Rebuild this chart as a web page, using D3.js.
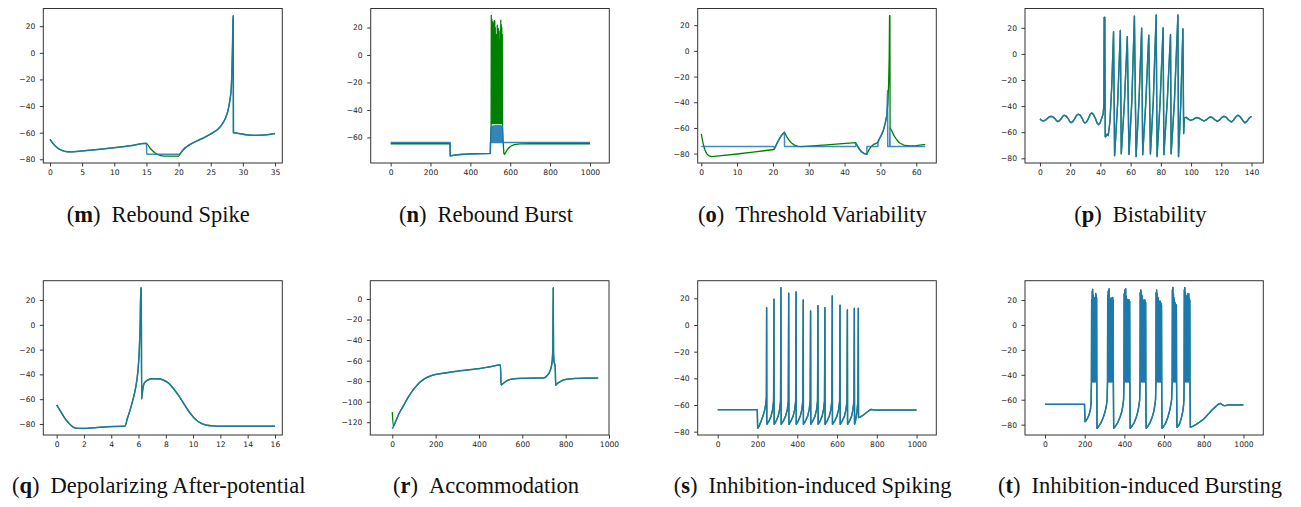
<!DOCTYPE html>
<html><head><meta charset="utf-8">
<script src="https://cdn.jsdelivr.net/npm/d3@7"></script>
<style>body{margin:0;background:#fff}svg{display:block}</style>
</head><body>
<svg id="c" width="1301" height="507"></svg>
<script>
// ---------- captions ----------
const capLetters = ['m','n','o','p','q','r','s','t'];
const capTitles = ['Rebound Spike','Rebound Burst','Threshold Variability','Bistability',
  'Depolarizing After-potential','Accommodation','Inhibition-induced Spiking','Inhibition-induced Bursting'];

// ---------- tick values ----------
const mXTicks=[0,5,10,15,20,25,30,35], mYTicks=[-80,-60,-40,-20,0,20];
const nXTicks=[0,200,400,600,800,1000], nYTicks=[-60,-40,-20,0,20];
const oXTicks=[0,10,20,30,40,50,60], oYTicks=[-80,-60,-40,-20,0,20];
const pXTicks=[0,20,40,60,80,100,120,140], pYTicks=[-80,-60,-40,-20,0,20];
const qXTicks=[0,2,4,6,8,10,12,14,16], qYTicks=[-80,-60,-40,-20,0,20];
const rXTicks=[0,200,400,600,800,1000], rYTicks=[-120,-100,-80,-60,-40,-20,0];
const sXTicks=[0,200,400,600,800,1000], sYTicks=[-80,-60,-40,-20,0,20];
const tXTicks=[0,200,400,600,800,1000], tYTicks=[-80,-60,-40,-20,0,20];

// ---------- (m) Rebound Spike ----------
const mHead=[[0,-65],[0.5,-68.3],[1,-70.8],[1.5,-72.5],[2,-73.6],[2.5,-74.2],[3,-74.4],[4,-74.2],[5,-73.7],[7.5,-72.6],[10,-71.3],[12.5,-69.8],[15,-68]];
const mGreenDip=[[15.5,-71.2],[16,-73.8],[16.5,-75.7],[17,-76.8],[17.5,-77.4],[18,-77.6],[20,-77.6]];
const mBlueDip=[[15.05,-76.2],[20,-76.2]];
const mTail=[[20.3,-75.5],[20.7,-73],[21.2,-70.8],[21.8,-68.8],[22.5,-67],[23.5,-64.8],[24.5,-62.3],[25.5,-59.5],[26.2,-57],[26.8,-53.5],[27.3,-49],[27.7,-43],[28,-35],[28.2,-26],[28.32,-10],[28.4,8],[28.46,27.8],[28.5,27.8],[28.53,-60],[29,-60.3],[30,-61.2],[31,-61.8],[32,-62],[33,-61.9],[34,-61.4],[35,-60.7]];

// ---------- (n) Rebound Burst ----------
const nGreen=[[0,-64.6],[298,-64.6],[299,-73.4],[305,-73.3],[320,-72.9],[350,-72.4],[400,-72],[450,-71.8],[500,-71.6],[501,-64.6],[504,-52],
[505,28.7],[506.5,-50],[507.5,26],[509,-50],[510,18],[511.5,-50],[512.5,24],[514,-50],[515,22.7],[516.5,-50],[517.5,10],[519,-50],[520,25],[521.5,-50],[522.5,24.8],[524,-50],[525,20],[526.5,-50],[527.5,5],[529,-50],[530,14.7],[531.5,-50],[532.5,8],[534,-50],[535,21.7],[536.5,-50],[537.5,12],[539,-50],[540,19.3],[541.5,-50],[542.5,17],[544,-50],[545,5],[546.5,-50],[547.5,11],[549,-50],[550,18],[551.5,-50],[552.5,25.3],[554,-50],[555,22],[556.5,-50],[557.5,20],[559,-50],[560,15],[561.5,-52],
[564,-62],[568,-71.5],[571,-72.3],[576,-71.3],[585,-69],[600,-66.6],[620,-65.3],[650,-64.7],[700,-64.6],[1000,-64.6]];
const nBlue=[[0,-63.6],[298,-63.6],[299,-73.4],[305,-73.3],[320,-72.9],[350,-72.4],[400,-72],[450,-71.8],[500,-71.6],[501,-63.6],[503,-63.6],
[504,-52.5],[505.7,-63.6],[507.5,-52],[509.2,-63.6],[511,-51.8],[512.7,-63.6],[514.5,-51.7],[516.2,-63.6],[518,-51.6],[519.7,-63.6],[521.5,-51.6],[523.2,-63.6],[525,-51.5],[526.7,-63.6],[528.5,-51.5],[530.2,-63.6],[532,-51.5],[533.7,-63.6],[535.5,-51.5],[537.2,-63.6],[539,-51.5],[540.7,-63.6],[542.5,-51.5],[544.2,-63.6],[546,-51.5],[547.7,-63.6],[549.5,-51.5],[551.2,-63.6],[553,-51.6],[554.7,-63.6],[556.5,-51.7],[558.2,-63.6],[560,-51.8],[561.7,-63.6],[1000,-63.6]];

// ---------- (o) Threshold Variability ----------
const oGreen=[[0,-64.6],[0.5,-72],[1,-77],[1.5,-80],[2,-81.5],[2.9,-82.3],[5,-81.7],[10,-80.3],[15,-78.6],[20.3,-76.8],[20.8,-74],[21.3,-71],[22,-67.5],[22.6,-65],[23.2,-63.3],[23.8,-66.5],[24.5,-69.5],[25.2,-71.8],[26,-73.4],[27,-74.3],[28,-74.6],[35,-73.2],[43,-71.4],[43.5,-73.5],[44,-76],[44.7,-78.5],[45.5,-80],[46.2,-80.5],[46.7,-77.5],[47.3,-75],[48,-73],[49.2,-71.5],[49.6,-69],[50.2,-66],[50.8,-62],[51.3,-57],[51.8,-50],[52.1,-40],[52.3,-25],[52.45,-5],[52.55,27.5],[52.65,27.5],[52.7,-60],[53.2,-62.5],[53.8,-66],[54.5,-69],[55.3,-71.5],[56.5,-73.3],[58,-73.9],[60,-73.7],[62.5,-72.8]];
const oBlue=[[0,-74.5],[20.3,-74.5],[20.4,-76.3],[21.3,-71],[22,-67.5],[22.6,-65],[23.2,-63.3],[23.25,-74.5],[43.1,-74.5],[43.15,-71.6],[43.5,-73.5],[44,-76],[44.7,-78.5],[45.5,-80],[46.2,-80.5],[46.25,-74.5],[49.3,-74.5],[49.35,-71.5],[49.6,-69],[50.2,-66],[50.8,-62],[51.3,-57],[51.8,-50],[52,-31],[52.05,-74.5],[52.6,-74.5],[52.65,-60],[52.7,-74.5],[62.5,-74.5]];

// ---------- (p) Bistability ----------
const pTrace=[[0,-49.8],[1,-50.9],[2.2,-51.4],[3.4,-50.9],[4.8,-49.6],[6,-48.3],[7.3,-47.8],[8.6,-48.3],[10,-49.7],[11,-51.2],[11.8,-51.9],[12.8,-51.3],[14.2,-49.5],[15.2,-47.6],[16.2,-47],[17.3,-47.6],[18.8,-49.8],[19.8,-52],[20.6,-52.7],[21.6,-52],[23,-49.6],[24.3,-47],[25.5,-46.2],[26.7,-47],[28,-49.5],[29,-52.2],[29.8,-52.9],[30.8,-52.2],[32.2,-49.2],[33.3,-46.2],[34.3,-45.2],[35.3,-46.2],[36.7,-49.5],[37.8,-53],[38.8,-54.2],[39.8,-53],[40.8,-49.5],[41.8,-46],[42.3,-40],[42.5,28],[42.9,28],[43.2,-63.5],[43.8,-63],[44.5,-61.5],[45.2,-62.5],[46.3,-52],[47.5,-25],[48.7,17],[49.4,-78],[51.4,-38],[53.2,18],[53.8,-76.6],[55.9,-37],[57.8,13.3],[58.9,-77],[60.8,-36],[62.5,29],[63.6,-78.7],[65.5,-37],[67.3,19.7],[68,-77.2],[70,-38],[72,14.3],[73.1,-76.6],[75,-36],[76.9,29.8],[77.5,-78.7],[79.5,-37],[81.5,20],[82,-77.2],[84.2,-37],[86.4,14.8],[86.8,-76.6],[89,-36],[91.3,29.8],[91.7,-78.7],[93.2,-38],[94.6,19.2],[95.1,-61],[95.6,-49],[96.8,-48.6],[98.2,-50],[99.7,-51],[101.5,-50.2],[103,-49],[104,-48.8],[105.2,-49.2],[106.8,-50.4],[108.5,-51.4],[110,-50.6],[111.7,-48.9],[113,-48.3],[114.2,-48.9],[115.9,-50.6],[117.4,-51.7],[118.8,-50.6],[120.5,-48.5],[121.8,-47.8],[123.2,-48.5],[125,-50.8],[126.7,-52.2],[128,-50.8],[129.8,-48],[131,-47],[132.4,-48],[134.2,-51],[135.6,-52.9],[137,-51.6],[138.6,-49],[140,-47.8]];

// ---------- (q) Depolarizing After-potential ----------
const qTrace=[[0,-64.7],[0.3,-70],[0.6,-75.5],[0.9,-79.5],[1.2,-82.5],[1.5,-83.5],[2,-83.6],[3,-82.8],[4,-82.1],[5,-81.8],[5.2,-75],[5.4,-68],[5.6,-60],[5.8,-50],[5.95,-38],[6.05,-22],[6.12,0],[6.17,30],[6.2,29.5],[6.23,-60],[6.3,-53],[6.4,-47.5],[6.6,-45],[7,-43.5],[7.4,-43.5],[7.8,-44.5],[8.2,-47],[8.6,-52],[9,-58],[9.4,-65],[9.8,-71.5],[10.2,-76.5],[10.6,-79.5],[11,-81],[11.5,-81.6],[12,-81.8],[14,-81.8],[16,-81.8]];

// ---------- (r) Accommodation ----------
const rGreenStart=[[0,-110]];
const rBlue=[[0,-126.5],[5,-124],[15,-119.5],[30,-112],[50,-104.5],[75,-95],[100,-87.5],[125,-81.5],[150,-77.5],[175,-75],[200,-73.5],[250,-71.8],[300,-70.3],[350,-69],[400,-67.8],[450,-66],[499,-64.2],[502,-83.8],[510,-82.5],[530,-79.5],[560,-77.7],[600,-77.2],[650,-77],[700,-76.8],[715,-74.5],[725,-71.5],[733,-66.5],[738,-60],[741,-45],[742.5,11],[744,-52],[746,-60],[750,-64],[752,-67],[754,-84],[760,-82.5],[780,-79.8],[800,-78.3],[850,-77.3],[900,-77],[950,-77]];

// ---------- (s) Inhibition-induced Spiking ----------
const sTrace=[[0,-63.5],[199,-63.5],[201,-77.5],[208,-76],[216,-73],[226,-69],[236,-64],[242,-59],[245,-54],
[246,13],[247,-74.5],[258,-72],[268,-68.5],[276,-63.5],[281,-57],
[283,19.3],[284,-74.5],[294,-72],[304,-68.5],[311,-63.5],[316,-57],
[318,28],[319,-74.5],[330,-72],[341,-68.5],[350,-63.5],[355,-57],
[357,23.8],[358,-74.5],[368,-72],[379,-68.5],[387,-63.5],[392,-57],
[394,24.8],[395,-74.5],[405,-72],[415,-68.5],[423,-63.5],[428,-57],
[430,18.8],[431,-74.5],[441,-72],[452,-68.5],[460,-63.5],[465,-57],
[467,10.5],[468,-74.5],[478,-72],[489,-68.5],[497,-63.5],[502,-57],
[504,14.5],[505,-74.5],[515,-72],[525,-68.5],[532,-63.5],[537,-57],
[539,13],[540,-74.5],[550,-72],[561,-68.5],[569,-63.5],[574,-57],
[576,21.8],[577,-74.5],[588,-72],[599,-68.5],[608,-63.5],[613,-57],
[615,14.8],[616,-74.5],[626,-72],[637,-68.5],[645,-63.5],[650,-57],
[652,11.3],[653,-74.5],[663,-72],[673,-68.5],[680,-63.5],[685,-57],
[687,12.5],[688,-74.5],[694,-71],[700,-65],[705,-57],
[707,12.5],[708,-69.5],[716,-69],[730,-67.8],[745,-66],[760,-64.3],[772,-63.3],[785,-63.7],[800,-63.8],[1000,-63.8]];

// ---------- (t) Inhibition-induced Bursting ----------
const tTrace=[[0,-63.7],[199,-63.7],[201.7,-77.6],[206,-77],[212,-75.5],[218,-73.6],[224,-71],[229,-67.5],[232,-63],
[234,-45.5],[235,20.5],[236.5,-45.5],[238,27],[239,-45.5],[240,28.6],[241.5,-45.5],[243,24],[244,-45.5],[245,20],[246.5,-45.5],[248,18.7],[249,-45.5],[250.5,22],[251.5,-45.5],[253,19],[254,-45.5],[255.5,25.3],[256.5,-45.5],[258,24],[259,-45.5],[260,22],[261,-45.5],
[262,-82.9],[270,-81.5],[282,-78.5],[294,-74],[303,-69.5],[309,-65],[313,-60],
[315,-45.5],[316,24],[317,-45.5],[318.5,27],[319.5,-45.5],[321,28],[322,-45.5],[323.5,29],[324.5,-45.5],[326,22],[327,-45.5],[328.5,20],[329.5,-45.5],[331,18],[332,-45.5],[333.5,21],[334.5,-45.5],[336,19],[337,-45.5],[338.5,22],[339.5,-45.5],[341,22],[342,-45.5],[343.5,20],[344.5,-45.5],
[346,-82.9],[354,-81.5],[366,-78.5],[378,-74],[387,-69.5],[392,-65],[396,-60],
[398,-45.5],[399,25],[400,-45.5],[401.5,28],[402.5,-45.5],[404,27],[405,-45.5],[406.5,29],[407.5,-45.5],[409,23],[410,-45.5],[411.5,21],[412.5,-45.5],[414,20],[415,-45.5],[416.5,19],[417.5,-45.5],[419,20],[420,-45.5],[421.5,19],[422.5,-45.5],[424,20],[425,-45.5],[426.5,19],[427.5,-45.5],
[429,-82.9],[437,-81.5],[449,-78.5],[460,-74],[468,-69.5],[473,-65],[477,-60],
[479,-45.5],[480,26],[481,-45.5],[482.5,28],[483.5,-45.5],[485,27],[486,-45.5],[487.5,24],[488.5,-45.5],[490,23],[491,-45.5],[492.5,20],[493.5,-45.5],[495,19],[496,-45.5],[497.5,18],[498.5,-45.5],[500,20],[501,-45.5],[502.5,20],[503.5,-45.5],[505,19],[506,-45.5],[507,18],[508,-45.5],
[509.5,-82.9],[517,-81.5],[529,-78.5],[540,-74],[548,-69.5],[553,-65],[557,-60],
[559,-45.5],[560,26],[561,-45.5],[562.5,28],[563.5,-45.5],[565,25],[566,-45.5],[567.5,22],[568.5,-45.5],[570,22],[571,-45.5],[572.5,19],[573.5,-45.5],[575,18],[576,-45.5],[577.5,19],[578.5,-45.5],[580,19],[581,-45.5],[582.5,18],[583.5,-45.5],[585,17],[586,-45.5],[587,16],[588,-45.5],
[589.5,-82.9],[597,-81.5],[609,-78.5],[619,-74],[627,-69.5],[633,-65],[638,-60],
[641,-45.5],[642,28],[643,-45.5],[644.5,30],[645.5,-45.5],[647,25],[648,-45.5],[649.5,22],[650.5,-45.5],[652,20],[653,-45.5],[654.5,18],[655.5,-45.5],[657,17],[658,-45.5],[659.5,16],[660.5,-45.5],[662,16],[663,-45.5],
[665,-82],[672,-81],[680,-78.5],[688,-74],[694,-69.5],[698,-65],[700,-60],
[701,-45.5],[702,28],[703,-45.5],[704.5,30],[705.5,-45.5],[707,26],[708,-45.5],[709.5,24],[710.5,-45.5],[712,22],[713,-45.5],[714.5,21],[715.5,-45.5],[717,23],[718,-45.5],[719.5,25],[720.5,-45.5],[722,24],[723,-45.5],[724.5,25],[725.5,-45.5],[727,21],[728,-45.5],[729.5,20],[730.5,-45.5],
[732.5,-82],[745,-81.3],[760,-80],[780,-77.8],[800,-75.5],[820,-72],[840,-68.5],[860,-65.5],[875,-63.5],[885,-63],[893,-64],[902,-64.8],[912,-64.6],[925,-64.2],[1000,-64.2]];

// ---------- series per panel (green = first, blue = second) ----------
const seriesByPanel = {
  m:[mHead.concat(mGreenDip,mTail), mHead.concat(mBlueDip,mTail)],
  n:[nGreen,nBlue],
  o:[oGreen,oBlue],
  p:[pTrace,pTrace],
  q:[qTrace,qTrace],
  r:[rGreenStart.concat(rBlue.slice(1)), rBlue],
  s:[sTrace,sTrace],
  t:[tTrace,tTrace]
};
const ticksByPanel = {m:[mXTicks,mYTicks],n:[nXTicks,nYTicks],o:[oXTicks,oYTicks],p:[pXTicks,pYTicks],
  q:[qXTicks,qYTicks],r:[rXTicks,rYTicks],s:[sXTicks,sYTicks],t:[tXTicks,tYTicks]};

// ---------- layout ----------
const layout = [
 {key:'m', box:[43.3,8.5,282.3,163], xd:[-1.04,36.13], yd:[-82.8,33.3], smooth:true, bo:0.86, cx:158.3, cy:221.5},
 {key:'n', box:[370.7,8.5,609.3,163], xd:[-100,1097], yd:[-78.6,33.8], smooth:false, bo:0.9, cx:486, cy:221.5},
 {key:'o', box:[697.7,8.5,936.3,163], xd:[-1,65.6], yd:[-87.3,33], smooth:false, bo:0.86, cx:812.3, cy:221.5},
 {key:'p', box:[1025,8.5,1263.3,163], xd:[-9.9,147.8], yd:[-83.6,34.8], smooth:false, bo:0.86, cx:1140.3, cy:221.5},
 {key:'q', box:[43.3,280.7,282.3,435], xd:[-0.98,16.54], yd:[-88.9,35.6], smooth:true, bo:0.86, cx:158.7, cy:492.5},
 {key:'r', box:[370.3,280.7,609,435], xd:[-101.5,1000], yd:[-132.4,17.8], smooth:true, bo:0.86, cx:486, cy:492.5},
 {key:'s', box:[697.7,280.7,936.3,435], xd:[-100.5,1099], yd:[-82.5,33.2], smooth:false, bo:0.9, cx:812.7, cy:492.5},
 {key:'t', box:[1025,280.7,1263.3,435], xd:[-100.8,1100], yd:[-88.3,35.5], smooth:false, bo:0.95, cx:1140, cy:492.5}
];

const svg = d3.select('#c');
const fmt = v => v < 0 ? '\u2212' + Math.abs(v) : String(v);
const colors = ['#008000', '#1f77b4'];
const widths = [1.3, 1.5];

layout.forEach((L, i) => {
  const [x0,y0,x1,y1] = L.box;
  const x = d3.scaleLinear().domain(L.xd).range([x0,x1]);
  const y = d3.scaleLinear().domain(L.yd).range([y1,y0]);
  const clipId = 'clip-' + L.key;
  svg.append('clipPath').attr('id', clipId).append('rect')
    .attr('x', x0).attr('y', y0).attr('width', x1-x0).attr('height', y1-y0);
  const line = d3.line().x(d => x(d[0])).y(d => y(d[1]))
    .curve(L.smooth ? d3.curveMonotoneX : d3.curveLinear);
  const g = svg.append('g').attr('clip-path', `url(#${clipId})`);
  seriesByPanel[L.key].forEach((s, k) => {
    g.append('path').attr('d', line(s)).attr('fill','none')
      .attr('stroke', colors[k]).attr('stroke-width', widths[k])
      .attr('stroke-opacity', k === 1 ? L.bo : 1)
      .attr('stroke-linejoin','round');
  });
  const [xt, yt] = ticksByPanel[L.key];
  const ax = svg.append('g').attr('transform', `translate(0,${y1})`)
    .call(d3.axisBottom(x).tickValues(xt).tickFormat(fmt).tickSize(3.5).tickPadding(3));
  const ay = svg.append('g').attr('transform', `translate(${x0},0)`)
    .call(d3.axisLeft(y).tickValues(yt).tickFormat(fmt).tickSize(3.5).tickPadding(4.5));
  [ax, ay].forEach(a => {
    a.select('.domain').remove();
    a.selectAll('line').attr('stroke', '#222').attr('stroke-width', 0.9);
    a.selectAll('text').attr('font-family', 'DejaVu Sans').attr('font-size', 7.6).attr('fill', '#222');
  });
  svg.append('rect').attr('x', x0).attr('y', y0).attr('width', x1-x0).attr('height', y1-y0)
    .attr('fill','none').attr('stroke','#333').attr('stroke-width', 1);
  // caption
  const t = svg.append('text').attr('x', L.cx).attr('y', L.cy).attr('text-anchor','middle')
    .attr('font-family','Liberation Serif, Times New Roman, serif').attr('font-size', 22.5).attr('fill','#111');
  t.append('tspan').text('(');
  t.append('tspan').attr('font-weight','bold').text(capLetters[i]);
  t.append('tspan').text(')');
  t.append('tspan').attr('dx', 11).text(capTitles[i]);
});
</script>
</body></html>
